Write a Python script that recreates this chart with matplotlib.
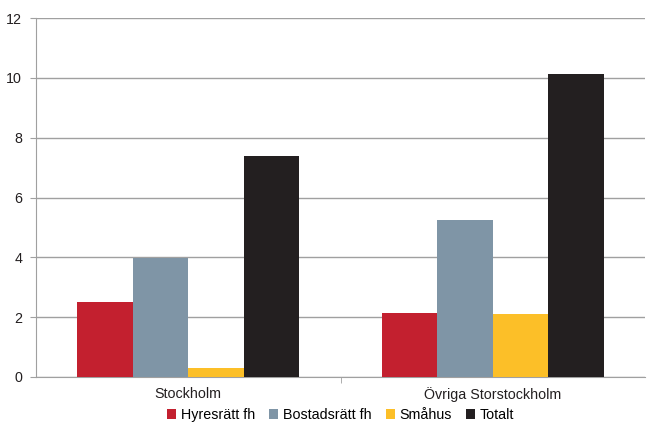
import matplotlib
matplotlib.use('Agg')
import matplotlib.pyplot as plt
import numpy as np

categories = ['Stockholm', 'Övriga Storstockholm']
series_names = ['Hyresrätt fh', 'Bostadsrätt fh', 'Småhus', 'Totalt']
hyresratt = [2.5, 2.14]
bostadsratt = [3.99, 5.25]
smahus = [0.29, 2.11]
totalt = [7.38, 10.12]
colors = ['#C3202F', '#7F95A6', '#FCBF28', '#231F20']

plt.rcParams['font.family'] = ['Liberation Sans', 'DejaVu Sans']
fig = plt.figure(figsize=(6.48, 4.23), dpi=100)
ax = fig.add_axes([36 / 648, 1 - 377 / 423, 609 / 648, 359 / 423])

x = np.arange(len(categories))
width = 0.182
data = [hyresratt, bostadsratt, smahus, totalt]
for i, (vals, name, c) in enumerate(zip(data, series_names, colors)):
    ax.bar(x + (i - 1.5) * width, vals, width, color=c, label=name, zorder=3)

ax.set_xlim(-0.5, 1.5)
ax.set_ylim(0, 12)
ax.set_yticks(range(0, 13, 2))
ax.yaxis.grid(True, color='#A0A0A0', linewidth=1)
ax.set_axisbelow(True)
for s in ['top', 'right']:
    ax.spines[s].set_visible(False)
ax.spines['left'].set_color('#A0A0A0')
ax.spines['bottom'].set_color('#A0A0A0')
ax.tick_params(axis='y', length=4, color='#A0A0A0', labelsize=10.3, pad=6, labelcolor='#231F20')
ax.set_xticks(x)
ax.set_xticklabels(categories)
ax.tick_params(axis='x', length=0, labelsize=10.3, pad=7, labelcolor='#231F20')
ax.set_xticks([0.5], minor=True)
ax.tick_params(axis='x', which='minor', length=4, color='#A0A0A0')

ax.legend(loc='center', bbox_to_anchor=(0.5, -0.106), ncol=4, frameon=False,
          fontsize=10.3, handlelength=0.65, handleheight=0.65, handletextpad=0.3,
          columnspacing=1.0, borderaxespad=0, borderpad=0)

plt.savefig('out.png', dpi=100)
plt.close()
